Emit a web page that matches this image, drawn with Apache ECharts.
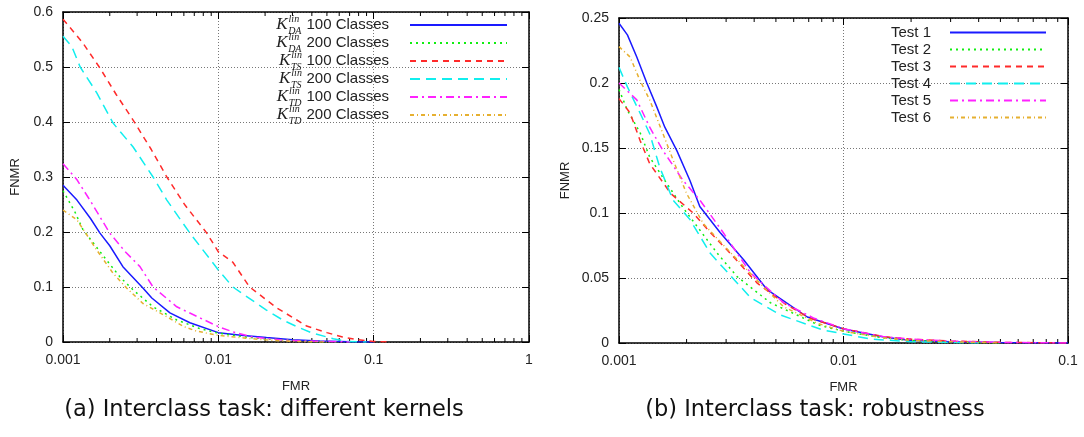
<!DOCTYPE html>
<html>
<head>
<meta charset="utf-8">
<script src="https://cdn.jsdelivr.net/npm/echarts@6/dist/echarts.min.js"></script>
<style>
  html, body { margin: 0; padding: 0; background: #fff; }
  #main { width: 1084px; height: 437px; }
</style>
</head>
<body>
<div id="main"></div>
<script>
// (a) 不同核函数  [FMR, FNMR]
var kDA100 = [[0.001, 0.285], [0.00123, 0.258], [0.0015, 0.225], [0.00173, 0.198], [0.002, 0.175], [0.00243, 0.137], [0.00327, 0.098], [0.00373, 0.08], [0.00488, 0.053], [0.00656, 0.035], [0.01, 0.017], [0.0145, 0.012], [0.0204, 0.008], [0.03, 0.004], [0.045, 0.002], [0.07, 0.0005], [0.1, 0]];
var kDA200 = [[0.001, 0.275], [0.0012, 0.235], [0.00134, 0.205], [0.0018, 0.158], [0.00233, 0.118], [0.00282, 0.095], [0.0038, 0.064], [0.0054, 0.04], [0.0075, 0.025], [0.01, 0.016], [0.015, 0.009], [0.02, 0.006], [0.03, 0.003], [0.04, 0.001], [0.06, 0]];
var kTS100 = [[0.001, 0.587], [0.00134, 0.544], [0.00173, 0.498], [0.0022, 0.45], [0.00282, 0.404], [0.0037, 0.35], [0.00466, 0.3], [0.0061, 0.249], [0.00843, 0.198], [0.01, 0.164], [0.0124, 0.145], [0.0159, 0.1], [0.0238, 0.062], [0.032, 0.04], [0.037, 0.029], [0.05, 0.017], [0.063, 0.009], [0.08, 0.004], [0.1, 0.001], [0.13, 0]];
var kTS200 = [[0.001, 0.556], [0.00114, 0.537], [0.00129, 0.5], [0.00165, 0.453], [0.0021, 0.398], [0.00282, 0.355], [0.0038, 0.3], [0.00466, 0.258], [0.00656, 0.198], [0.01, 0.131], [0.0124, 0.1], [0.0204, 0.058], [0.026, 0.04], [0.032, 0.028], [0.0405, 0.016], [0.055, 0.006], [0.067, 0.001], [0.09, 0]];
var kTD100 = [[0.001, 0.324], [0.00123, 0.295], [0.00149, 0.258], [0.002, 0.198], [0.0025, 0.165], [0.00313, 0.137], [0.0038, 0.1], [0.0054, 0.064], [0.0076, 0.044], [0.01, 0.028], [0.0125, 0.018], [0.0167, 0.009], [0.025, 0.004], [0.035, 0.002], [0.05, 0.001], [0.07, 0]];
var kTD200 = [[0.001, 0.24], [0.00123, 0.222], [0.00165, 0.167], [0.0021, 0.125], [0.00257, 0.098], [0.00327, 0.07], [0.00466, 0.046], [0.006, 0.028], [0.0072, 0.02], [0.01, 0.012], [0.015, 0.007], [0.02, 0.004], [0.03, 0.001], [0.05, 0]];

// (b) 鲁棒性测试
var test1 = [[0.001, 0.246], [0.00109, 0.237], [0.0012, 0.22], [0.00133, 0.2], [0.00147, 0.182], [0.0016, 0.166], [0.00181, 0.148], [0.00207, 0.125], [0.00229, 0.105], [0.00282, 0.085], [0.00359, 0.064], [0.00457, 0.041], [0.0069, 0.02], [0.01, 0.0108], [0.0151, 0.0046], [0.02, 0.002], [0.03, 0.001], [0.05, 0.0003], [0.1, 0]];
var test2 = [[0.001, 0.195], [0.00109, 0.179], [0.00124, 0.162], [0.00137, 0.143], [0.0016, 0.125], [0.00193, 0.104], [0.00274, 0.069], [0.00336, 0.051], [0.00472, 0.031], [0.0077, 0.014], [0.01, 0.009], [0.015, 0.004], [0.02, 0.002], [0.03, 0.001], [0.05, 0]];
var test3 = [[0.001, 0.188], [0.00112, 0.177], [0.00124, 0.156], [0.00137, 0.138], [0.0017, 0.115], [0.00214, 0.1], [0.00255, 0.085], [0.00313, 0.069], [0.00413, 0.046], [0.0055, 0.03], [0.0071, 0.019], [0.01, 0.011], [0.015, 0.005], [0.02, 0.003], [0.03, 0.0015], [0.05, 0.0005], [0.1, 0]];
var test4 = [[0.001, 0.212], [0.00109, 0.197], [0.00124, 0.177], [0.00137, 0.161], [0.00152, 0.135], [0.00174, 0.11], [0.00207, 0.095], [0.00255, 0.069], [0.00291, 0.058], [0.00385, 0.035], [0.00524, 0.0215], [0.0081, 0.01], [0.01, 0.007], [0.0132, 0.003], [0.02, 0.001], [0.04, 0]];
var test5 = [[0.001, 0.2], [0.0012, 0.187], [0.00137, 0.166], [0.00157, 0.148], [0.00193, 0.125], [0.00229, 0.11], [0.00291, 0.085], [0.00385, 0.054], [0.0054, 0.031], [0.0074, 0.019], [0.01, 0.011], [0.015, 0.005], [0.02, 0.003], [0.03, 0.0015], [0.05, 0.0005], [0.1, 0]];
var test6 = [[0.001, 0.228], [0.00112, 0.22], [0.00124, 0.202], [0.00137, 0.187], [0.00157, 0.161], [0.00174, 0.141], [0.002, 0.115], [0.00237, 0.092], [0.00282, 0.078], [0.00413, 0.048], [0.0054, 0.028], [0.0077, 0.015], [0.01, 0.009], [0.015, 0.004], [0.02, 0.002], [0.03, 0.001], [0.05, 0]];

// 图例
var kernelNames = ['DA 100', 'DA 200', 'TS 100', 'TS 200', 'TD 100', 'TD 200'];
var kernelSubs = ['DA', 'DA', 'TS', 'TS', 'TD', 'TD'];
var kernelClasses = ['100 Classes', '200 Classes', '100 Classes', '200 Classes', '100 Classes', '200 Classes'];
var testNames = ['Test 1', 'Test 2', 'Test 3', 'Test 4', 'Test 5', 'Test 6'];

// 刻度
var fmrTicksA = [0.001, 0.01, 0.1, 1];
var fmrTickLabels = ['0.001', '0.01', '0.1', '1'];
var minorBase = [2, 3, 4, 5, 6, 7, 8, 9];

var colors = ['#1a1aff', '#11ee11', '#ff2a2a', '#11eeee', '#ff22ff', '#e6b030'];
var dashes = ['solid', [2, 4], [6, 5], [10, 6], [8, 4, 2, 4], [4, 3, 1, 3]];

var textColor = '#222';
var font = 'Liberation Sans';

function minorTicks(decades) {
  var out = [];
  decades.forEach(function (d) {
    minorBase.forEach(function (m) { out.push([d * m]); });
  });
  return out;
}

function fmrLabel(v) {
  for (var i = 0; i < fmrTicksA.length; i++) {
    if (Math.abs(Math.log10(v) - Math.log10(fmrTicksA[i])) < 1e-6) return fmrTickLabels[i];
  }
  return '';
}

function mainX(gridIndex, max) {
  return {
    type: 'log', logBase: 10, gridIndex: gridIndex, min: 0.001, max: max, position: 'bottom',
    name: 'FMR', nameLocation: 'middle', nameGap: 38,
    nameTextStyle: { fontFamily: font, fontSize: 13, color: textColor },
    axisLine: { onZero: false, lineStyle: { color: '#000', width: 1.5 } },
    axisTick: { inside: true, length: 7, lineStyle: { color: '#000' } },
    axisLabel: { fontFamily: font, fontSize: 14, color: textColor, margin: 11, formatter: fmrLabel },
    splitLine: { show: true, lineStyle: { type: [1, 2], color: '#777' } }
  };
}
function mirrorX(gridIndex, max) {
  return {
    type: 'log', logBase: 10, gridIndex: gridIndex, min: 0.001, max: max, position: 'top',
    axisLine: { onZero: false, lineStyle: { color: '#000', width: 1.5 } },
    axisTick: { inside: true, length: 7, lineStyle: { color: '#000' } },
    axisLabel: { show: false }, splitLine: { show: false }
  };
}
function mainY(gridIndex, max, interval, gap) {
  return {
    type: 'value', gridIndex: gridIndex, min: 0, max: max, interval: interval, position: 'left',
    name: 'FNMR', nameLocation: 'middle', nameGap: gap, nameRotate: 90,
    nameTextStyle: { fontFamily: font, fontSize: 13, color: textColor },
    axisLine: { show: true, onZero: false, lineStyle: { color: '#000', width: 1.5 } },
    axisTick: { show: true, inside: true, length: 7, lineStyle: { color: '#000' } },
    axisLabel: { fontFamily: font, fontSize: 14, color: textColor, margin: 10 },
    splitLine: { show: true, lineStyle: { type: [1, 2], color: '#777' } }
  };
}
function mirrorY(gridIndex, max, interval) {
  return {
    type: 'value', gridIndex: gridIndex, min: 0, max: max, interval: interval, position: 'right',
    axisLine: { show: true, onZero: false, lineStyle: { color: '#000', width: 1.5 } },
    axisTick: { show: true, inside: true, length: 7, lineStyle: { color: '#000' } },
    axisLabel: { show: false }, splitLine: { show: false }
  };
}

function lineSeries(name, data, i, xi, yi) {
  return {
    name: name, type: 'line', data: data, xAxisIndex: xi, yAxisIndex: yi,
    symbol: 'none', animation: false,
    lineStyle: { color: colors[i], width: 1.5, type: dashes[i] },
    itemStyle: { color: colors[i] }
  };
}

// 对数轴的小刻度
function minorSeries(decades, xi, yi, yMax) {
  return {
    type: 'custom', xAxisIndex: xi, yAxisIndex: yi, silent: true, animation: false,
    data: minorTicks(decades), encode: { x: 0 },
    renderItem: function (params, api) {
      var b = api.coord([api.value(0), 0]);
      var t = api.coord([api.value(0), yMax]);
      var st = { stroke: '#000', lineWidth: 1 };
      return {
        type: 'group', children: [
          { type: 'line', shape: { x1: b[0], y1: b[1], x2: b[0], y2: b[1] - 4 }, style: st },
          { type: 'line', shape: { x1: t[0], y1: t[1], x2: t[0], y2: t[1] + 4 }, style: st }
        ]
      };
    }
  };
}

var kernelData = [kDA100, kDA200, kTS100, kTS200, kTD100, kTD200];
var testData = [test1, test2, test3, test4, test5, test6];

var series = [];
kernelData.forEach(function (d, i) { series.push(lineSeries(kernelNames[i], d, i, 0, 0)); });
testData.forEach(function (d, i) { series.push(lineSeries(testNames[i], d, i, 2, 2)); });
series.push(minorSeries([0.001, 0.01, 0.1], 0, 0, 0.6));
series.push(minorSeries([0.001, 0.01], 2, 2, 0.25));

var mathRich = {
  k: { fontFamily: 'Liberation Serif', fontStyle: 'italic', fontSize: 17, lineHeight: 22, color: textColor, padding: [0, 1, 0, 0] },
  sup: { fontFamily: 'Liberation Serif', fontStyle: 'italic', fontSize: 10, lineHeight: 12, verticalAlign: 'top', color: textColor },
  sub: { fontFamily: 'Liberation Serif', fontStyle: 'italic', fontSize: 10, lineHeight: 11, verticalAlign: 'bottom', color: textColor, padding: [0, 0, 0, -11] },
  t: { fontFamily: font, fontSize: 15, color: textColor, padding: [0, 16, 0, 5] }
};

var chart = echarts.init(document.getElementById('main'));
chart.setOption({
  backgroundColor: '#fff',
  animation: false,
  grid: [
    { left: 63, top: 12, width: 466, height: 330 },
    { left: 619, top: 18, width: 449, height: 325 }
  ],
  xAxis: [mainX(0, 1), mirrorX(0, 1), mainX(1, 0.1), mirrorX(1, 0.1)],
  yAxis: [mainY(0, 0.6, 0.1, 41), mirrorY(0, 0.6, 0.1), mainY(1, 0.25, 0.05, 47), mirrorY(1, 0.25, 0.05)],
  legend: [
    {
      data: kernelNames, orient: 'vertical', align: 'right', right: 576, top: 14, padding: 0,
      itemWidth: 97, itemHeight: 2, itemGap: -4, selectedMode: false,
      itemStyle: { opacity: 0 },
      formatter: function (name) {
        var i = kernelNames.indexOf(name);
        return '{k|K}{sup|lin}{sub|' + kernelSubs[i] + '}{t|' + kernelClasses[i] + '}';
      },
      textStyle: { rich: mathRich }
    },
    {
      data: testNames, orient: 'vertical', align: 'right', right: 37, top: 24, padding: 0,
      itemWidth: 96, itemHeight: 2, itemGap: 0, selectedMode: false,
      itemStyle: { opacity: 0 },
      textStyle: { fontFamily: font, fontSize: 15, lineHeight: 17, color: textColor, padding: [0, 14, 0, 0] }
    }
  ],
  graphic: [
    { type: 'text', x: 264, y: 410, style: { text: '(a) Interclass task: different kernels', align: 'center', verticalAlign: 'middle', fontFamily: 'DejaVu Sans', fontSize: 22.5, fill: '#111' } },
    { type: 'text', x: 815, y: 410, style: { text: '(b) Interclass task: robustness', align: 'center', verticalAlign: 'middle', fontFamily: 'DejaVu Sans', fontSize: 22.5, fill: '#111' } }
  ],
  series: series
});
</script>
</body>
</html>
